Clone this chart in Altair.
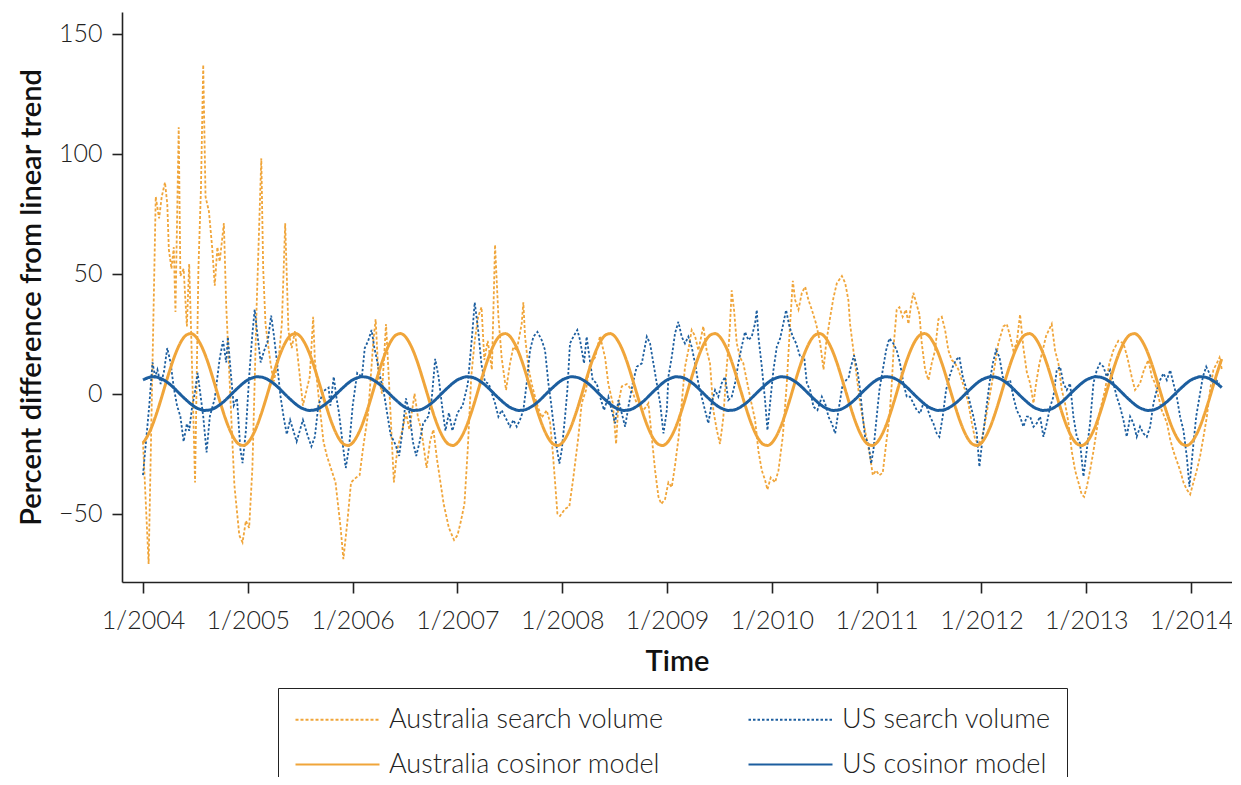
import altair as alt
import pandas as pd

# ---------------- data ----------------
SERIES = ["Australia search volume", "US search volume",
          "Australia cosinor model", "US cosinor model"]

au_search_t = [2004.0, 2004.054, 2004.122, 2004.154, 2004.179, 2004.21, 2004.232, 2004.247, 2004.272, 2004.294,
               2004.31, 2004.341, 2004.357, 2004.388, 2004.419, 2004.441, 2004.46, 2004.497, 2004.529, 2004.553,
               2004.575, 2004.597, 2004.629, 2004.66, 2004.685, 2004.71, 2004.732, 2004.772, 2004.794, 2004.825,
               2004.872, 2004.919, 2004.95, 2004.982, 2005.013, 2005.044, 2005.085, 2005.129, 2005.147, 2005.169,
               2005.216, 2005.247, 2005.294, 2005.325, 2005.357, 2005.388, 2005.419, 2005.45, 2005.49, 2005.526,
               2005.591, 2005.624, 2005.64, 2005.673, 2005.722, 2005.755, 2005.837, 2005.886, 2005.912, 2005.951,
               2005.985, 2006.033, 2006.067, 2006.099, 2006.149, 2006.198, 2006.22, 2006.247, 2006.28, 2006.319,
               2006.345, 2006.378, 2006.394, 2006.427, 2006.476, 2006.509, 2006.542, 2006.591, 2006.624, 2006.656,
               2006.706, 2006.739, 2006.771, 2006.804, 2006.869, 2006.919, 2006.968, 2007.001, 2007.034, 2007.067,
               2007.099, 2007.132, 2007.165, 2007.198, 2007.23, 2007.257, 2007.289, 2007.329, 2007.359, 2007.391,
               2007.422, 2007.464, 2007.502, 2007.534, 2007.566, 2007.613, 2007.629, 2007.645, 2007.677, 2007.709,
               2007.756, 2007.804, 2007.852, 2007.884, 2007.909, 2007.932, 2007.954, 2007.979, 2008.027, 2008.068,
               2008.106, 2008.154, 2008.186, 2008.227, 2008.265, 2008.313, 2008.361, 2008.409, 2008.44, 2008.482,
               2008.514, 2008.536, 2008.568, 2008.616, 2008.663, 2008.711, 2008.775, 2008.822, 2008.854, 2008.886,
               2008.918, 2008.945, 2008.981, 2009.013, 2009.045, 2009.076, 2009.108, 2009.14, 2009.171, 2009.203,
               2009.235, 2009.267, 2009.299, 2009.346, 2009.378, 2009.41, 2009.442, 2009.474, 2009.505, 2009.537,
               2009.569, 2009.595, 2009.617, 2009.639, 2009.665, 2009.697, 2009.728, 2009.76, 2009.792, 2009.84,
               2009.872, 2009.904, 2009.935, 2009.958, 2009.989, 2010.031, 2010.063, 2010.104, 2010.142, 2010.174,
               2010.2, 2010.222, 2010.254, 2010.286, 2010.318, 2010.349, 2010.381, 2010.423, 2010.461, 2010.493,
               2010.518, 2010.557, 2010.588, 2010.62, 2010.668, 2010.7, 2010.73, 2010.746, 2010.778, 2010.81,
               2010.842, 2010.874, 2010.905, 2010.937, 2010.963, 2010.994, 2011.026, 2011.058, 2011.09, 2011.121,
               2011.144, 2011.166, 2011.191, 2011.217, 2011.248, 2011.28, 2011.303, 2011.325, 2011.35, 2011.376,
               2011.408, 2011.43, 2011.462, 2011.494, 2011.525, 2011.557, 2011.589, 2011.621, 2011.653, 2011.684,
               2011.716, 2011.748, 2011.78, 2011.812, 2011.843, 2011.875, 2011.907, 2011.939, 2011.971, 2012.002,
               2012.034, 2012.066, 2012.098, 2012.13, 2012.161, 2012.209, 2012.241, 2012.273, 2012.304, 2012.336,
               2012.368, 2012.4, 2012.432, 2012.464, 2012.496, 2012.521, 2012.553, 2012.584, 2012.616, 2012.67,
               2012.702, 2012.734, 2012.766, 2012.797, 2012.829, 2012.861, 2012.893, 2012.925, 2012.956, 2012.979,
               2013.004, 2013.036, 2013.068, 2013.1, 2013.131, 2013.179, 2013.22, 2013.258, 2013.306, 2013.354,
               2013.392, 2013.433, 2013.465, 2013.513, 2013.551, 2013.593, 2013.625, 2013.656, 2013.688, 2013.72,
               2013.768, 2013.8, 2013.831, 2013.863, 2013.895, 2013.927, 2013.959, 2013.991, 2014.022, 2014.054,
               2014.086, 2014.118, 2014.149, 2014.181, 2014.213, 2014.245, 2014.271, 2014.293]
au_search_v = [-20, -71, 82, 73, 82, 88, 79, 60, 52, 61,
               34, 111, 49, 52, 28, 54, 25, -37, 52, 85,
               137, 82, 76, 61, 45, 61, 55, 71, 37, 7,
               -38, -59, -62, -53, -56, -31, 37, 98, 52, 29,
               13, 5, 14, 29, 71, 26, 19, 26, 10, -5,
               7, 32, 14, 0, -20, -26, -37, -56, -69, -53,
               -37, -35, -34, -23, -8, 22, 31, 7, 0, 29,
               7, -23, -37, -23, -15, -8, -15, 0, -10, -15,
               -31, -20, -15, -27, -46, -56, -61, -59, -53, -46,
               -23, 7, 22, 32, 36, 14, 22, 10, 62, 32,
               15, 1.5, 12.6, 19.5, 18, 29, 38, 24, 11, 4,
               -4, -10, -7, -12, -24, -37, -50, -51, -48, -47,
               -35, -18, -4, 1.5, 12.6, 15, 24, 15, 4, -4,
               -21, -4, 3, 4, 1.5, -4, -7, -4, -18, -32,
               -43, -46, -44, -37, -39, -30, -19, -4, 11, 18,
               26.5, 24, 18, 28, 18, 12.6, -7, -15, -21, -10,
               11, 24, 43, 35, 21, 15, 12.6, 5.6, -1.3, -11,
               -24, -32, -36, -40, -35, -37, -32, -18, 4, 29,
               47, 39, 35, 42, 44.5, 39, 35, 29, 21, 10,
               21, 32, 40, 46, 49, 46, 39, 29, 18, 7,
               -4, -12, -19, -26, -34, -32, -34, -33, -21, -10,
               4, 22, 35, 36, 32, 35, 29, 36, 42, 38,
               33, 21, 10, 5.6, 12.6, 18, 31, 32, 26.5, 18,
               14, 12.6, 10, 5.6, 1.5, -4, -12, -19, -21, -19,
               -12, -4, 4, 12.6, 21, 28, 29, 24, 18, 21,
               33, 19, 9, 4.3, -4, 4.3, 12.6, 18, 24, 29,
               18, 12.6, 1.5, -4, -12, -24, -32, -37, -42, -43,
               -39, -32, -24, -15, -7, 1.5, 12.6, 18, 22, 21,
               15, 7, 1.5, 4.3, 10, 14, 7, 4.3, -1.3, -7,
               -12, -19, -24, -28, -32, -37, -40, -42, -37, -32,
               -26, -18, -10, 1.5, 10, 12.6, 15, 10]

us_search_t = [2004.0, 2004.06, 2004.091, 2004.116, 2004.138, 2004.169, 2004.2, 2004.232, 2004.263, 2004.294,
               2004.325, 2004.357, 2004.388, 2004.419, 2004.441, 2004.466, 2004.497, 2004.522, 2004.544, 2004.575,
               2004.607, 2004.638, 2004.685, 2004.732, 2004.764, 2004.794, 2004.81, 2004.841, 2004.866, 2004.897,
               2004.929, 2004.95, 2004.982, 2005.013, 2005.044, 2005.066, 2005.091, 2005.123, 2005.154, 2005.191,
               2005.223, 2005.247, 2005.279, 2005.31, 2005.341, 2005.372, 2005.404, 2005.435, 2005.466, 2005.526,
               2005.575, 2005.607, 2005.64, 2005.673, 2005.722, 2005.771, 2005.788, 2005.82, 2005.847, 2005.87,
               2005.903, 2005.935, 2005.968, 2006.001, 2006.044, 2006.089, 2006.116, 2006.149, 2006.181, 2006.208,
               2006.23, 2006.263, 2006.296, 2006.329, 2006.362, 2006.411, 2006.444, 2006.476, 2006.509, 2006.542,
               2006.575, 2006.607, 2006.64, 2006.673, 2006.722, 2006.755, 2006.788, 2006.82, 2006.853, 2006.886,
               2006.919, 2006.952, 2007.001, 2007.05, 2007.099, 2007.139, 2007.165, 2007.198, 2007.23, 2007.263,
               2007.3, 2007.359, 2007.391, 2007.422, 2007.454, 2007.502, 2007.534, 2007.566, 2007.597, 2007.629,
               2007.661, 2007.693, 2007.725, 2007.763, 2007.804, 2007.836, 2007.868, 2007.89, 2007.916, 2007.941,
               2007.973, 2007.995, 2008.027, 2008.049, 2008.074, 2008.106, 2008.144, 2008.17, 2008.208, 2008.233,
               2008.259, 2008.291, 2008.329, 2008.361, 2008.399, 2008.44, 2008.472, 2008.504, 2008.536, 2008.568,
               2008.6, 2008.631, 2008.673, 2008.711, 2008.759, 2008.807, 2008.838, 2008.87, 2008.902, 2008.934,
               2008.966, 2008.998, 2009.013, 2009.045, 2009.076, 2009.108, 2009.14, 2009.171, 2009.203, 2009.235,
               2009.267, 2009.299, 2009.33, 2009.362, 2009.394, 2009.426, 2009.458, 2009.489, 2009.521, 2009.553,
               2009.585, 2009.617, 2009.649, 2009.68, 2009.712, 2009.744, 2009.776, 2009.808, 2009.84, 2009.856,
               2009.872, 2009.904, 2009.935, 2009.958, 2009.983, 2010.015, 2010.047, 2010.079, 2010.11, 2010.136,
               2010.168, 2010.2, 2010.232, 2010.27, 2010.308, 2010.334, 2010.365, 2010.397, 2010.435, 2010.477,
               2010.508, 2010.54, 2010.572, 2010.604, 2010.636, 2010.677, 2010.709, 2010.735, 2010.746, 2010.784,
               2010.816, 2010.842, 2010.867, 2010.889, 2010.921, 2010.947, 2010.969, 2010.994, 2011.026, 2011.058,
               2011.09, 2011.121, 2011.159, 2011.191, 2011.223, 2011.255, 2011.287, 2011.318, 2011.35, 2011.382,
               2011.414, 2011.446, 2011.478, 2011.51, 2011.541, 2011.573, 2011.598, 2011.63, 2011.662, 2011.694,
               2011.726, 2011.757, 2011.789, 2011.821, 2011.859, 2011.891, 2011.923, 2011.955, 2011.98, 2012.012,
               2012.044, 2012.076, 2012.108, 2012.139, 2012.171, 2012.203, 2012.235, 2012.273, 2012.304, 2012.336,
               2012.368, 2012.4, 2012.432, 2012.464, 2012.496, 2012.527, 2012.559, 2012.591, 2012.623, 2012.655,
               2012.686, 2012.718, 2012.75, 2012.782, 2012.814, 2012.845, 2012.877, 2012.909, 2012.941, 2012.973,
               2013.004, 2013.036, 2013.068, 2013.1, 2013.131, 2013.163, 2013.195, 2013.227, 2013.259, 2013.29,
               2013.322, 2013.354, 2013.386, 2013.418, 2013.45, 2013.481, 2013.513, 2013.545, 2013.577, 2013.609,
               2013.641, 2013.672, 2013.704, 2013.736, 2013.768, 2013.8, 2013.831, 2013.863, 2013.895, 2013.927,
               2013.959, 2013.984, 2014.016, 2014.048, 2014.08, 2014.112, 2014.144, 2014.175, 2014.207, 2014.239,
               2014.271]
us_search_v = [-34, -5, 13, 7, 10, 4, 9, 19, 13, 2.5,
               -5, -9.5, -20, -12.5, -15.5, -6.5, 1, 8.6, 1, -9.5,
               -24.5, -9.5, -2, 14.6, 22, 13, 23.6, 7, -5, -2,
               -23, -29, -15.5, 7, 25, 35, 25, 13, 17.6, 22,
               32.5, 25, 13, -0.5, -9.5, -17, -11, -15.5, -20, -11,
               -18, -22, -18, -5, 1, 2.5, -5, 7, -2, -8,
               -20, -31, -21.5, -5, 8.6, 7, 19, 22, 26.5, 19,
               14.5, 7, 1, -8, -17, -21.5, -26, -15.5, -2, -8,
               -20, -26, -20, -12.5, -9.5, -2, 14.5, 7, -5, -15.5,
               -8, -15.5, -8, -5, 4, 23.6, 38, 26.5, 12, 5,
               4, -4, -9.6, -6.9, -9.6, -13.8, -11, -13.8, -11, -6.9,
               4.3, 18.1, 23.7, 25.7, 22.3, 18.1, 4.3, -2.7, -12.4, -20.8,
               -29.2, -23.6, -9.6, 1.5, 20.9, 23.7, 26.5, 22.3, 12.6, 23.7,
               15.3, 5.6, 4.3, -1.3, -6.9, -1.3, -6.9, -12.4, -2.7, -8.2,
               -13.8, -5.5, 4.3, 11.2, 12.6, 23.7, 20.9, 12.6, 4.3, -4,
               -16.6, -6.9, 7, 15.3, 25.1, 29.9, 23.7, 20.9, 23.7, 19.5,
               12.6, 4.3, -1.3, -6.9, -12.4, -4, 1.5, -1.3, 4.3, 7,
               -2.7, -1.3, 4.3, 12.6, 19.5, 25.7, 22.3, 23.7, 29.3, 34.8,
               23.7, 11.2, -2.7, -15.3, -4, 9.8, 19.5, 23, 29.3, 34.8,
               27.9, 23.7, 20.9, 15.3, 15.3, 4.3, 1.5, -5.5, -6.9, -1.3,
               -4, -9.6, -12.4, -16.6, -6.9, 4.3, 5.6, 7, 9.8, 16,
               9.8, 1.5, -9.6, -18, -20.8, -29.2, -23.6, -12.4, 1.5, 9.8,
               18.1, 23, 20.9, 18.1, 12.6, 4.3, -1.3, -1.3, -4, -6.9,
               -8.2, -4, -5.5, -9.6, -12.4, -16.6, -18, -9.6, 1.5, 7,
               11.2, 14, 15.3, 7, 1.5, -4, -9.6, -16.6, -30.5, -18,
               -6.9, 4.3, 12.6, 18.1, 15.3, 7, 4.3, 5.6, -1.3, -6.9,
               -9.6, -13.8, -9.6, -9.6, -13.8, -12.4, -9.6, -18, -12.4, -5.5,
               -1.3, 9.8, 11.2, 4.3, 1.5, 4.3, -9.6, -18, -20.8, -34.6,
               -23.6, -12.4, 4.3, 9.8, 12.6, 11.2, 7, 9.8, 4.3, -1.3,
               -5.5, -11, -18, -9.6, -12.4, -18, -13.8, -16.6, -18, -13.8,
               -4, 1.5, 5.6, 8.4, 5.6, 9.8, 4.3, -1.3, -9.6, -15.3,
               -26.4, -38.8, -23.6, -9.6, -1.3, 7, 11.2, 8.4, 4.3, 5.6,
               4.3]

# one yearly cycle of each cosinor model, read at half-month steps (Jan 1, Jan 16, ...)
au_model_cycle = [-20.5, -17.8, -13.9, -8.9, -3.2, 2.9, 8.9, 14.4, 19.0, 22.5, 24.5, 25.0,
                  23.9, 21.2, 17.3, 12.3, 6.5, 0.5, -5.5, -11.0, -15.6, -19.1, -21.1, -21.6]
us_model_cycle = [5.7, 6.5, 7.0, 6.9, 6.4, 5.4, 4.1, 2.5, 0.7, -1.1, -2.8, -4.4,
                  -5.7, -6.5, -7.0, -6.9, -6.4, -5.4, -4.1, -2.5, -0.7, 1.1, 2.8, 4.4]
model_steps = 248          # Jan 2004 .. mid-Apr 2014 in half-month steps
steps_per_year = 24
start_year = 2004

x_ticks = list(range(2004, 2015))
y_ticks = [-50, 0, 50, 100, 150]

# ---------------- tables ----------------
df_au = pd.DataFrame({"t": au_search_t, "v": au_search_v, "series": SERIES[0]})
df_us = pd.DataFrame({"t": us_search_t, "v": us_search_v, "series": SERIES[1]})
mt = [start_year + k / steps_per_year for k in range(model_steps)]
df_aum = pd.DataFrame({"t": mt, "v": [au_model_cycle[k % 24] for k in range(model_steps)], "series": SERIES[2]})
df_usm = pd.DataFrame({"t": mt, "v": [us_model_cycle[k % 24] for k in range(model_steps)], "series": SERIES[3]})

ORANGE = "#F0A53A"
BLUE = "#1C5E9F"
FONT = "Lato"

x_enc = alt.X("t:Q",
              scale=alt.Scale(domain=[2003.8, 2014.39], nice=False, zero=False),
              axis=alt.Axis(values=x_ticks, labelExpr="'1/' + datum.value", title="Time",
                            grid=False, tickSize=11, labelPadding=15, titlePadding=14,
                            labelFlush=False))
y_enc = alt.Y("v:Q",
              scale=alt.Scale(domain=[-78.5, 159], nice=False, zero=False),
              axis=alt.Axis(values=y_ticks, title="Percent difference from linear trend",
                            grid=False, tickSize=10, labelPadding=10, titlePadding=12,
                            labelFlush=False))

LEGEND = dict(title=None, orient="none", legendX=156, legendY=676,
              columns=2, direction="horizontal",
              symbolType="M-1,0H5", symbolSize=784, symbolStrokeWidth=2.2,
              labelFont=FONT, labelFontSize=27, labelFontWeight=300,
              labelColor="#222", labelLimit=500, labelOffset=64,
              columnPadding=80, rowPadding=16, padding=16,
              strokeColor="#222", fillColor="white")

color_enc = alt.Color("series:N",
                      scale=alt.Scale(domain=SERIES, range=[ORANGE, BLUE, ORANGE, BLUE]),
                      legend=alt.Legend(**LEGEND))
dash_enc = alt.StrokeDash("series:N",
                          scale=alt.Scale(domain=SERIES, range=[[3, 2], [2.5, 2], [1, 0], [1, 0]]),
                          legend=alt.Legend(**LEGEND))


def layer(df, width, interp):
    return alt.Chart(df).mark_line(strokeWidth=width, interpolate=interp, clip=True).encode(
        x=x_enc, y=y_enc, color=color_enc, strokeDash=dash_enc)


chart = alt.layer(
    layer(df_au, 1.8, "linear"),
    layer(df_us, 1.8, "linear"),
    layer(df_aum, 3, "monotone"),
    layer(df_usm, 3, "monotone"),
).properties(
    width=1110, height=570,
    autosize=alt.AutoSizeParams(type="none"),
    padding={"left": 114, "top": 4, "right": 0, "bottom": 195},
).configure_view(stroke=None).configure_axis(
    domainColor="#222", domainWidth=1.6, tickColor="#222", tickWidth=1.6,
    labelFont=FONT, labelFontSize=25, labelFontWeight=300, labelColor="#222",
    titleFont=FONT, titleFontSize=29, titleFontWeight=600, titleColor="#111",
)

chart.save("out.html", embed_options={"renderer": "svg", "actions": False})
